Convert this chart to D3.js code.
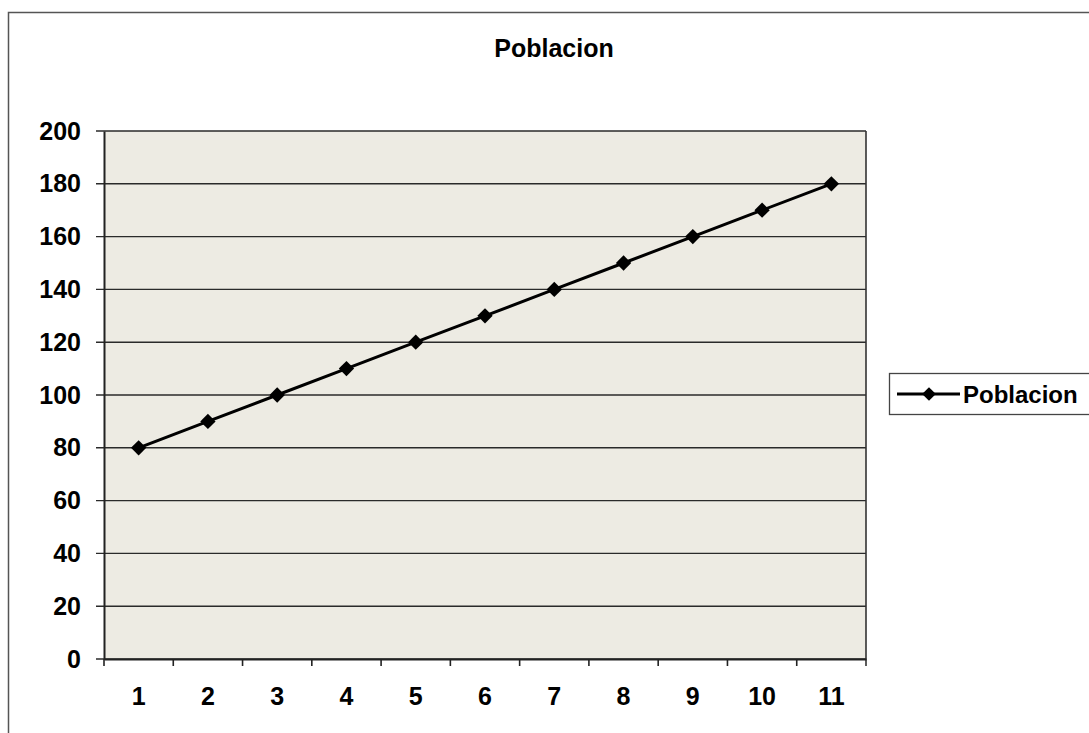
<!DOCTYPE html>
<html>
<head>
<meta charset="utf-8">
<script src="https://cdn.jsdelivr.net/npm/d3@7"></script>
<style>
  body { margin: 0; background: #fff; }
  text { font-family: "Liberation Sans", Arial, sans-serif; font-weight: bold; fill: #000; }
</style>
</head>
<body>
<div id="chart"></div>
<script>
// Poblacion line chart
var categories = ["1", "2", "3", "4", "5", "6", "7", "8", "9", "10", "11"];
var poblacion = [80, 90, 100, 110, 120, 130, 140, 150, 160, 170, 180];
var yTicks = [0, 20, 40, 60, 80, 100, 120, 140, 160, 180, 200];

var svgWidth = 1089;
var svgHeight = 733;

var margin = {
    top: 131,
    right: 223,
    bottom: 74,
    left: 104
};

var width = svgWidth - margin.left - margin.right;
var height = svgHeight - margin.top - margin.bottom;

var svg = d3.select("#chart")
    .append("svg")
    .attr("width", svgWidth)
    .attr("height", svgHeight);

// outer chart border (runs off the right and bottom edge)
svg.append("rect")
    .attr("x", 8.5)
    .attr("y", 12.5)
    .attr("width", 1200)
    .attr("height", 800)
    .attr("fill", "none")
    .attr("stroke", "#555")
    .attr("stroke-width", 1.5);

svg.append("text")
    .attr("x", 554)
    .attr("y", 57)
    .attr("text-anchor", "middle")
    .style("font-size", "25px")
    .text("Poblacion");

var chartGroup = svg.append("g")
    .attr("transform", `translate(${margin.left}, ${margin.top})`);

var xScale = d3.scaleBand()
    .domain(categories)
    .range([0, width]);

var yScale = d3.scaleLinear()
    .domain([0, 200])
    .range([height, 0]);

chartGroup.append("rect")
    .attr("width", width)
    .attr("height", height)
    .attr("fill", "#edebe3");

// gridlines
chartGroup.selectAll(".grid")
    .data(yTicks)
    .enter()
    .append("line")
    .attr("x1", -8)
    .attr("x2", width)
    .attr("y1", d => yScale(d))
    .attr("y2", d => yScale(d))
    .attr("stroke", "#2a2a2a")
    .attr("stroke-width", 1.4);

// right edge of plot
chartGroup.append("line")
    .attr("x1", width)
    .attr("x2", width)
    .attr("y1", 0)
    .attr("y2", height + 7)
    .attr("stroke", "#333")
    .attr("stroke-width", 1.6);

var leftAxis = d3.axisLeft(yScale)
    .tickValues(yTicks)
    .tickSize(0)
    .tickPadding(23);

var yAxis = chartGroup.append("g").call(leftAxis);
yAxis.select(".domain").attr("stroke", "#222").attr("stroke-width", 2);
yAxis.selectAll("text").style("font-size", "25px");

var bottomAxis = d3.axisBottom(xScale)
    .tickSize(0)
    .tickPadding(28);

var xAxis = chartGroup.append("g")
    .attr("transform", `translate(0, ${height})`)
    .call(bottomAxis);
xAxis.select(".domain").attr("stroke", "#222").attr("stroke-width", 2);
xAxis.selectAll("text").style("font-size", "25px");

// tick marks between categories
chartGroup.selectAll(".xtick")
    .data(categories)
    .enter()
    .append("line")
    .attr("x1", d => xScale(d))
    .attr("x2", d => xScale(d))
    .attr("y1", height)
    .attr("y2", height + 7)
    .attr("stroke", "#222")
    .attr("stroke-width", 1.6);

var line = d3.line()
    .x((d, i) => xScale(categories[i]) + xScale.bandwidth() / 2)
    .y(d => yScale(d));

chartGroup.append("path")
    .datum(poblacion)
    .attr("d", line)
    .attr("fill", "none")
    .attr("stroke", "#000")
    .attr("stroke-width", 3);

var diamond = d3.symbol().type(d3.symbolDiamond2).size(150);

chartGroup.selectAll(".marker")
    .data(poblacion)
    .enter()
    .append("path")
    .attr("d", diamond)
    .attr("transform", (d, i) => `translate(${xScale(categories[i]) + xScale.bandwidth() / 2}, ${yScale(d)})`)
    .attr("fill", "#000");

// legend
var legend = svg.append("g");

legend.append("rect")
    .attr("x", 889.5)
    .attr("y", 373.5)
    .attr("width", 260)
    .attr("height", 41)
    .attr("fill", "#fff")
    .attr("stroke", "#444")
    .attr("stroke-width", 1.3);

legend.append("line")
    .attr("x1", 897)
    .attr("x2", 960)
    .attr("y1", 394)
    .attr("y2", 394)
    .attr("stroke", "#000")
    .attr("stroke-width", 3);

legend.append("path")
    .attr("d", d3.symbol().type(d3.symbolDiamond2).size(120))
    .attr("transform", "translate(929, 394)")
    .attr("fill", "#000");

legend.append("text")
    .attr("x", 963)
    .attr("y", 403)
    .style("font-size", "24px")
    .text("Poblacion");
</script>
</body>
</html>
